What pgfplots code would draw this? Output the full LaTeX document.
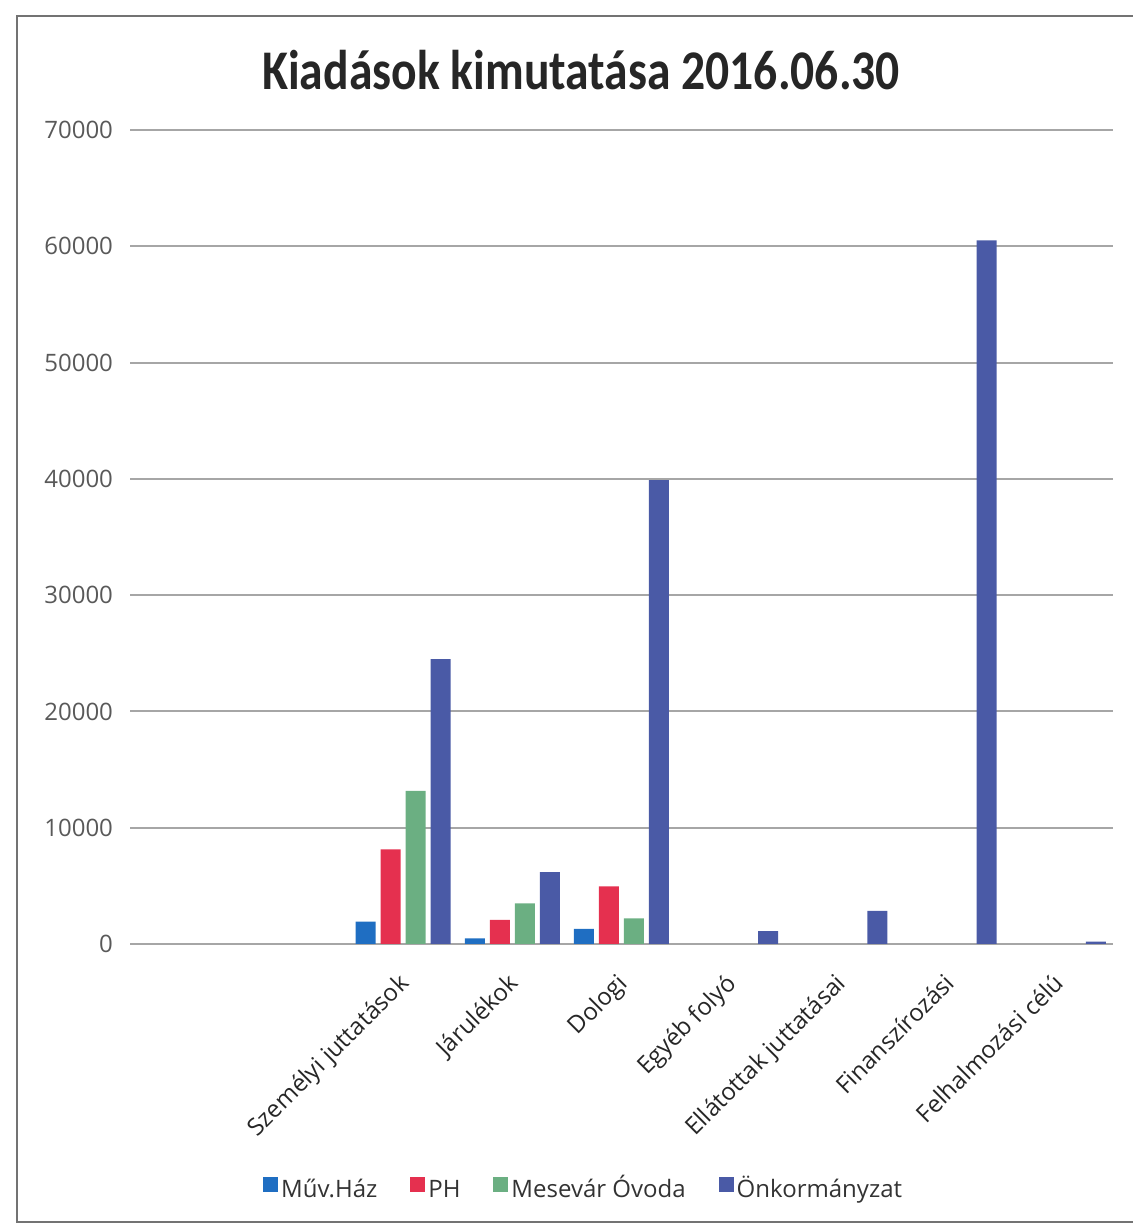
\documentclass[border=0pt]{standalone}
\usepackage{fontspec}
\setmainfont{Open Sans}
\newfontfamily\titlefont[FakeStretch=0.85]{Carlito}
\usepackage{pgfplots}
\pgfplotsset{compat=1.18}

\definecolor{cMuv}{HTML}{1F6EC2}
\definecolor{cPH}{HTML}{E5304F}
\definecolor{cMese}{HTML}{6BAF82}
\definecolor{cOnk}{HTML}{4A5AA6}
\definecolor{cGrid}{HTML}{A6A6A6}
\definecolor{cTick}{HTML}{595959}

% 1 px of the reference = 0.5pt
\begin{document}
\begin{tikzpicture}
\useasboundingbox (0,0) rectangle (566.5pt,612.5pt);
\draw[line width=1.3pt, color=black!55] (567pt,604.5pt) -- (8.5pt,604.5pt) -- (8.5pt,1.5pt) -- (567pt,1.5pt);
\node[font=\titlefont\bfseries\fontsize{28}{32}\selectfont, text=black!85] at (290.5pt,577.5pt) {Kiadások kimutatása 2016.06.30};

\begin{axis}[
    at={(65pt,140.5pt)}, anchor=south west,
    scale only axis,
    width=491.5pt, height=407pt,
    ybar=2.5pt, bar width=10pt,
    xmin=-0.5, xmax=8.5,
    ymin=0, ymax=70000,
    ytick={0,10000,...,70000},
    scaled y ticks=false,
    xtick={0,...,8},
    xticklabels={,,Személyi juttatások,Járulékok,Dologi,Egyéb folyó,Ellátottak juttatásai,Finanszírozási,Felhalmozási célú},
    x tick label style={xshift=-3pt, yshift=-9pt, rotate=45, anchor=north east, font=\fontsize{12}{14}\selectfont, text=black!85},
    y tick label style={font=\fontsize{12}{14}\selectfont, text=cTick, xshift=-5pt},
    /pgf/number format/1000 sep={},
    /pgf/number format/assume math mode=true,
    major tick length=0pt,
    axis line style={draw=none},
    ymajorgrids=true,
    grid style={cGrid, line width=1pt},
    legend columns=-1,
    legend style={at={(0.462,-0.303)}, anchor=center, draw=none, fill=none,
        font=\fontsize{12}{14}\selectfont, text=black!80,
        nodes={text height=8.8pt, text depth=2.2pt, inner sep=1.5pt},
        /tikz/every even column/.append style={column sep=15pt}},
    legend image code/.code={\fill[#1] (0pt,-0.5pt) rectangle (7.5pt,7pt);},
]
\addplot[fill=cMuv, draw=none] coordinates {(2,1920) (3,490) (4,1300)};
\addlegendentry{Műv.Ház}
\addplot[fill=cPH, draw=none] coordinates {(2,8130) (3,2070) (4,4950)};
\addlegendentry{PH}
\addplot[fill=cMese, draw=none] coordinates {(2,13160) (3,3500) (4,2200)};
\addlegendentry{Mesevár Óvoda}
\addplot[fill=cOnk, draw=none] coordinates {(2,24500) (3,6180) (4,39900) (5,1100) (6,2850) (7,60500) (8,200)};
\addlegendentry{Önkormányzat}
\end{axis}
\end{tikzpicture}
\end{document}
